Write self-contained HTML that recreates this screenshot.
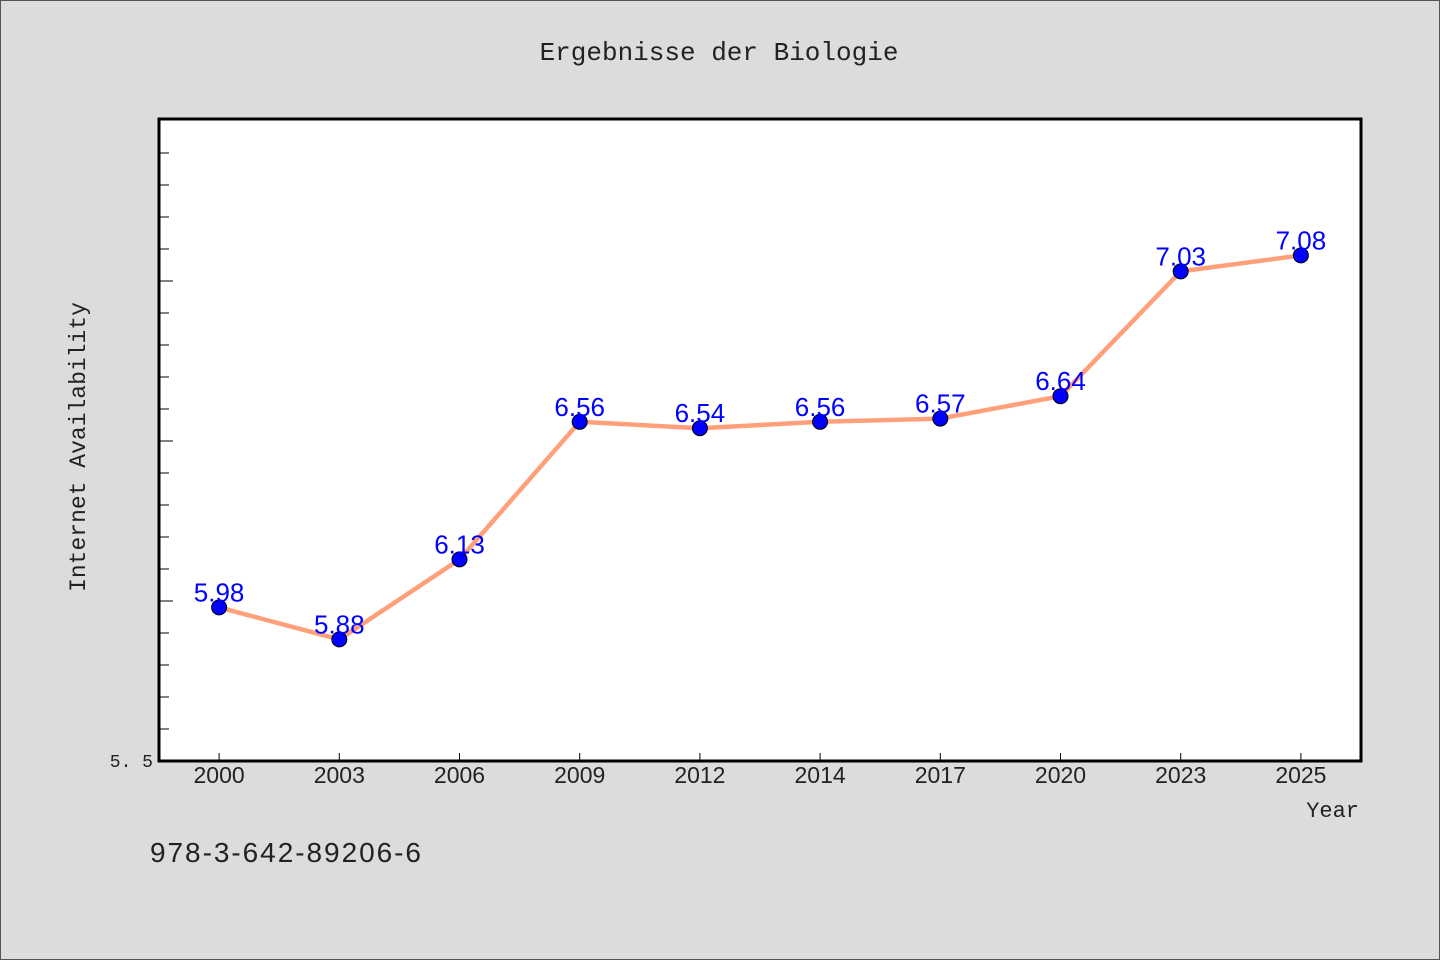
<!DOCTYPE html>
<html><head><meta charset="utf-8"><style>
html,body{margin:0;padding:0;background:#dcdcdc;}
svg{display:block;}
</style></head><body>
<svg id="chart" width="1440" height="960" xmlns="http://www.w3.org/2000/svg">
<rect x="0.5" y="0.5" width="1439" height="959" fill="#dcdcdc" stroke="#555"/>
<text x="719" y="60" text-anchor="middle" font-family="Liberation Mono, monospace" font-size="26" fill="#222">Ergebnisse der Biologie</text>
<rect x="159" y="119" width="1202" height="642" fill="#fff"/>
<g id="ticks"></g>
<g id="series"></g>
<rect x="159" y="119" width="1202" height="642" fill="none" stroke="#000" stroke-width="3"/>
<text x="153" y="767" text-anchor="end" font-family="Liberation Mono, monospace" font-size="18" fill="#222">5. 5</text>
<text transform="translate(85,447) rotate(-90)" text-anchor="middle" font-family="Liberation Mono, monospace" font-size="23" fill="#222">Internet Availability</text>
<text x="1359" y="817" text-anchor="end" font-family="Liberation Mono, monospace" font-size="22" fill="#222">Year</text>
<text x="150" y="862" font-family="Liberation Sans, sans-serif" font-size="28" textLength="271" fill="#222">978-3-642-89206-6</text>
</svg>
<script>
const categories = ["2000","2003","2006","2009","2012","2014","2017","2020","2023","2025"];
const values = [5.98, 5.88, 6.13, 6.56, 6.54, 6.56, 6.57, 6.64, 7.03, 7.08];
const valueLabels = ["5.98","5.88","6.13","6.56","6.54","6.56","6.57","6.64","7.03","7.08"];
const yMin = 5.5, yMax = 7.50625;
const yTickValues = [5.6,5.7,5.8,5.9,6.0,6.1,6.2,6.3,6.4,6.5,6.6,6.7,6.8,6.9,7.0,7.1,7.2,7.3,7.4];

const NS = "http://www.w3.org/2000/svg";
const L = 159, R = 1361, T = 119, B = 761;
const step = (R - L) / categories.length;
function xPos(i){ return L + step * (i + 0.5); }
function yPos(v){ return B - (v - yMin) / (yMax - yMin) * (B - T); }
function mk(tag, attrs, parent){ const e = document.createElementNS(NS, tag); for (const k in attrs) e.setAttribute(k, attrs[k]); parent.appendChild(e); return e; }

const ticks = document.getElementById('ticks');
yTickValues.forEach(v => {
  const y = yPos(v);
  const major = Math.abs(v*2 - Math.round(v*2)) < 1e-6;
  const t = mk('line', {x1:L, x2:L + (major ? 14 : 10), y1:y, y2:y, stroke:'#000', 'stroke-width':1}, ticks);
  
  
});
categories.forEach((c, i) => {
  const x = xPos(i);
  const t = mk('line', {x1:x, x2:x, y1:B, y2:B-8, stroke:'#000', 'stroke-width':1}, ticks);
  
  
  const lb = mk('text', {x:x, y:783, 'text-anchor':'middle', 'font-family':'Liberation Sans, sans-serif', 'font-size':23, fill:'#222'}, ticks);
  lb.textContent = c;
  
  
});

const series = document.getElementById('series');
const pts = values.map((v, i) => xPos(i) + ',' + yPos(v)).join(' ');
const line = mk('polyline', {points:pts, fill:'none', stroke:'#ffa07a', 'stroke-width':4.5, 'stroke-linejoin':'round'}, series);


values.forEach((v, i) => {
  const c = mk('circle', {cx:xPos(i), cy:yPos(v), r:7.5, fill:'#0000ff', stroke:'#000', 'stroke-width':1}, series);
  
  
});
values.forEach((v, i) => {
  const t = mk('text', {x:xPos(i), y:yPos(v) - 6, 'text-anchor':'middle', 'font-family':'Liberation Sans, sans-serif', 'font-size':26, fill:'#0000ff'}, series);
  t.textContent = valueLabels[i];
  
  
});
</script>
</body></html>
